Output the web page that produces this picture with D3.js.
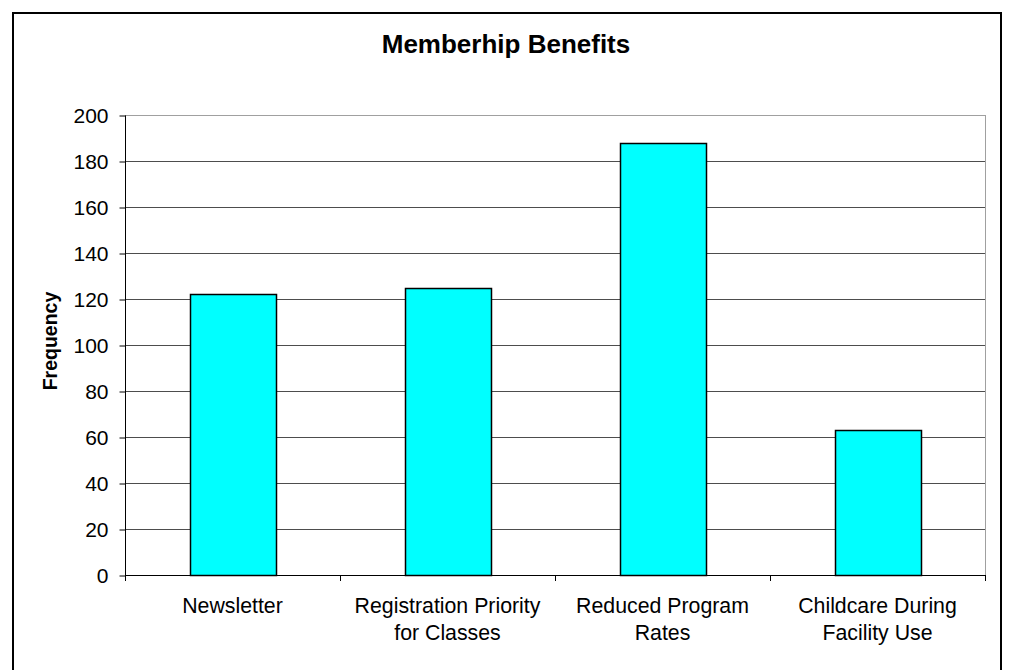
<!DOCTYPE html>
<html>
<head>
<meta charset="utf-8">
<script src="https://cdn.jsdelivr.net/npm/d3@7"></script>
<style>
  html, body { margin: 0; padding: 0; background: #fff; }
  svg { display: block; }
  text { font-family: "Liberation Sans", Arial, sans-serif; fill: #000; }
</style>
</head>
<body>
<svg id="chart" width="1009" height="670"></svg>
<script>
const title = "Memberhip Benefits";
const yAxisTitle = "Frequency";
const categories = [
  ["Newsletter"],
  ["Registration Priority", "for Classes"],
  ["Reduced Program", "Rates"],
  ["Childcare During", "Facility Use"]
];
const values = [122, 125, 188, 63];
const yTicks = [0, 20, 40, 60, 80, 100, 120, 140, 160, 180, 200];

const svg = d3.select("#chart");
const plot = { left: 125, right: 985, top: 115, bottom: 575 };

// outer frame
svg.append("rect")
  .attr("x", 13).attr("y", 13)
  .attr("width", 988).attr("height", 680)
  .attr("fill", "#fff").attr("stroke", "#000").attr("stroke-width", 2);

// title
svg.append("text")
  .attr("x", 506).attr("y", 53)
  .attr("text-anchor", "middle")
  .attr("font-size", 26).attr("font-weight", "bold")
  .text(title);

const x = d3.scaleBand()
  .domain(categories.map((d, i) => i))
  .range([plot.left, plot.right])
  .paddingInner(0.6).paddingOuter(0.3);

const y = d3.scaleLinear().domain([0, 200]).range([plot.bottom, plot.top]);

// plot area border (gray)
svg.append("rect")
  .attr("x", plot.left + 0.5).attr("y", plot.top + 0.5)
  .attr("width", plot.right - plot.left).attr("height", plot.bottom - plot.top)
  .attr("fill", "none").attr("stroke", "#a0a0a0").attr("stroke-width", 1);

// gridlines
svg.append("g").selectAll("line")
  .data(yTicks.filter(d => d > 0 && d < 200))
  .join("line")
  .attr("x1", plot.left).attr("x2", plot.right)
  .attr("y1", d => Math.round(y(d)) + 0.5).attr("y2", d => Math.round(y(d)) + 0.5)
  .attr("stroke", "#4d4d4d").attr("stroke-width", 1);

// bars
svg.append("g").selectAll("rect")
  .data(values)
  .join("rect")
  .attr("x", (d, i) => Math.round(x(i)) + 0.5)
  .attr("y", d => Math.round(y(d)) + 0.5)
  .attr("width", x.bandwidth())
  .attr("height", d => Math.round(y(0)) - Math.round(y(d)))
  .attr("fill", "#00ffff")
  .attr("stroke", "#000").attr("stroke-width", 1.5);

// y axis
const yAxis = d3.axisLeft(y).tickValues(yTicks).tickSize(6).tickPadding(11);
const gy = svg.append("g")
  .attr("transform", `translate(${plot.left + 0.5},0.5)`)
  .call(yAxis);
gy.select(".domain").attr("stroke", "#000").attr("d", `M0,${plot.top}V${plot.bottom}`);
gy.selectAll(".tick line").attr("stroke", "#000");
gy.selectAll(".tick text").attr("font-size", 21)
  .attr("font-family", "'Liberation Sans', Arial, sans-serif").attr("fill", "#000");

// x axis baseline and ticks at category boundaries
const step = (plot.right - plot.left) / categories.length;
const boundaries = d3.range(categories.length + 1).map(i => plot.left + i * step);
svg.append("line")
  .attr("x1", plot.left).attr("x2", plot.right)
  .attr("y1", plot.bottom + 0.5).attr("y2", plot.bottom + 0.5)
  .attr("stroke", "#000");
svg.append("g").selectAll("line")
  .data(boundaries)
  .join("line")
  .attr("x1", d => Math.round(d) + 0.5).attr("x2", d => Math.round(d) + 0.5)
  .attr("y1", plot.bottom).attr("y2", plot.bottom + 6)
  .attr("stroke", "#000");

// category labels
const lbl = svg.append("g").selectAll("text")
  .data(categories)
  .join("text")
  .attr("text-anchor", "middle")
  .attr("font-size", 21.3)
  .attr("y", 613);
lbl.each(function(lines, i) {
  const cx = x(i) + x.bandwidth() / 2;
  d3.select(this).selectAll("tspan")
    .data(lines)
    .join("tspan")
    .attr("x", cx)
    .attr("dy", (d, j) => j === 0 ? 0 : 27)
    .text(d => d);
});

// y axis title
svg.append("text")
  .attr("transform", "translate(57,341) rotate(-90)")
  .attr("text-anchor", "middle")
  .attr("font-size", 19.5).attr("font-weight", "bold")
  .text(yAxisTitle);
</script>
</body>
</html>
